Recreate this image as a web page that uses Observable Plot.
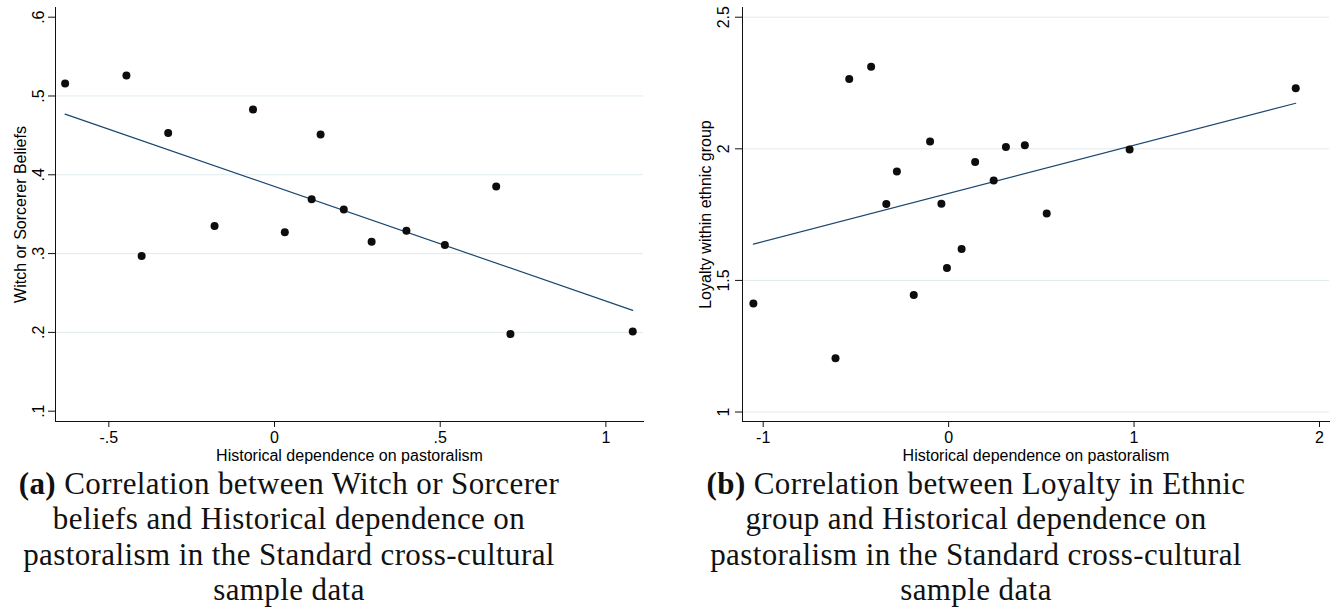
<!DOCTYPE html>
<html><head><meta charset="utf-8">
<script src="https://cdn.jsdelivr.net/npm/d3@7"></script>
<script src="https://cdn.jsdelivr.net/npm/@observablehq/plot@0.6"></script>
<style>
html,body{margin:0;padding:0;background:#fff;}
body{width:1340px;height:609px;overflow:hidden;position:relative;}
.chart{position:absolute;top:0;}
.cap{position:absolute;top:466px;transform:translateX(-50%);white-space:nowrap;text-align:center;
  font-family:"Liberation Serif","Times New Roman",serif;font-size:31px;line-height:35.3px;letter-spacing:0.4px;color:#111;}
.cap b{font-weight:bold;}
</style></head><body>
<div id="a" class="chart" style="left:0px"></div>
<div id="b" class="chart" style="left:680px"></div>
<div id="capA" class="cap" style="left:289px"></div>
<div id="capB" class="cap" style="left:976px"></div>
<script>
// ---------- data ----------
const xTitle = "Historical dependence on pastoralism";

// (a) Witch or Sorcerer beliefs
const witchX = [-0.632, -0.447, -0.401, -0.321, -0.181, -0.065, 0.031, 0.112, 0.139, 0.209, 0.293, 0.398, 0.514, 0.669, 0.712, 1.081];
const witchY = [0.516, 0.526, 0.297, 0.453, 0.335, 0.483, 0.327, 0.369, 0.451, 0.356, 0.315, 0.329, 0.311, 0.385, 0.198, 0.201];
const witchFitX = [-0.632, 1.081];
const witchFitY = [0.477, 0.228];
const witchYTicks = [0.1, 0.2, 0.3, 0.4, 0.5, 0.6];
const witchYTickLabels = [".1", ".2", ".3", ".4", ".5", ".6"];
const witchGrid = [0.2, 0.3, 0.4, 0.5];
const witchXTicks = [-0.5, 0, 0.5, 1];
const witchXTickLabels = ["-.5", "0", ".5", "1"];
const witchTitle = "Witch or Sorcerer Beliefs";
const witchCaption = ["<b>(a)</b> Correlation between Witch or Sorcerer", "beliefs and Historical dependence on", "pastoralism in the Standard cross-cultural", "sample data"];

// (b) Loyalty within ethnic group
const loyalX = [-1.053, -0.610, -0.536, -0.418, -0.336, -0.279, -0.188, -0.100, -0.039, -0.009, 0.070, 0.143, 0.243, 0.309, 0.411, 0.529, 0.976, 1.872];
const loyalY = [1.412, 1.204, 2.265, 2.312, 1.790, 1.914, 1.445, 2.028, 1.791, 1.547, 1.619, 1.950, 1.880, 2.007, 2.014, 1.754, 1.997, 2.230];
const loyalFitX = [-1.053, 1.872];
const loyalFitY = [1.638, 2.173];
const loyalYTicks = [1, 1.5, 2, 2.5];
const loyalYTickLabels = ["1", "1.5", "2", "2.5"];
const loyalGrid = [1, 1.5, 2, 2.5];
const loyalXTicks = [-1, 0, 1, 2];
const loyalXTickLabels = ["-1", "0", "1", "2"];
const loyalTitle = "Loyalty within ethnic group";
const loyalCaption = ["<b>(b)</b> Correlation between Loyalty in Ethnic", "group and Historical dependence on", "pastoralism in the Standard cross-cultural", "sample data"];

// ---------- drawing ----------
function scatter(o) {
  const pts = o.xs.map((x, i) => ({x, y: o.ys[i]}));
  const fit = o.fx.map((x, i) => ({x, y: o.fy[i]}));
  const yLab = o.yTicks.map((v, i) => ({v, t: o.yLabels[i]}));
  return Plot.plot({
    width: 660, height: 470,
    marginLeft: o.marginLeft, marginRight: o.marginRight, marginTop: 7, marginBottom: 49,
    style: {fontFamily: "'Liberation Sans', Arial, sans-serif", fontSize: "16px", color: "#000", background: "transparent", overflow: "visible"},
    x: {domain: o.xDomain},
    y: {domain: o.yDomain},
    marks: [
      Plot.ruleY(o.grid, {stroke: "#e1eaee", strokeWidth: 1}),
      Plot.frame({anchor: "left", stroke: "#111"}),
      Plot.frame({anchor: "bottom", stroke: "#111"}),
      Plot.axisY({ticks: o.yTicks, tickSize: 7, tickFormat: () => "", label: null, stroke: "#111"}),
      Plot.text(yLab, {y: "v", text: "t", frameAnchor: "left", dx: o.yLabelDx, rotate: -90, textAnchor: "middle", lineAnchor: "bottom", fontSize: 16, fill: "#000"}),
      Plot.text([o.yTitle], {text: d => d, frameAnchor: "left", dx: o.yTitleDx, rotate: -90, textAnchor: "middle", lineAnchor: "bottom", fontSize: 16, fill: "#000"}),
      Plot.axisX({ticks: o.xTicks, tickSize: 6, tickPadding: 4, tickFormat: d => o.xLabels[o.xTicks.indexOf(d)], label: null, stroke: "#111", fontSize: 16}),
      Plot.text([xTitle], {text: d => d, frameAnchor: "bottom", dy: 39, lineAnchor: "bottom", fontSize: 16, fill: "#000"}),
      Plot.line(fit, {x: "x", y: "y", stroke: "#1a476f", strokeWidth: 1.2}),
      Plot.dot(pts, {x: "x", y: "y", r: 4, fill: "#0d0d0d", stroke: "none"})
    ]
  });
}

document.getElementById("a").append(scatter({
  xs: witchX, ys: witchY, fx: witchFitX, fy: witchFitY,
  xDomain: [-0.661, 1.1135], yDomain: [0.0869, 0.6123],
  yTicks: witchYTicks, yLabels: witchYTickLabels, grid: witchGrid,
  xTicks: witchXTicks, xLabels: witchXTickLabels, yTitle: witchTitle,
  marginLeft: 55, marginRight: 17, yLabelDx: -12, yTitleDx: -30
}));
document.getElementById("b").append(scatter({
  xs: loyalX, ys: loyalY, fx: loyalFitX, fy: loyalFitY,
  xDomain: [-1.1116, 2.054], yDomain: [0.964, 2.5369],
  yTicks: loyalYTicks, yLabels: loyalYTickLabels, grid: loyalGrid,
  xTicks: loyalXTicks, xLabels: loyalXTickLabels, yTitle: loyalTitle,
  marginLeft: 62, marginRight: 11, yLabelDx: -13.5, yTitleDx: -32
}));
document.getElementById("capA").innerHTML = witchCaption.join("<br>");
document.getElementById("capB").innerHTML = loyalCaption.join("<br>");
</script>
</body></html>
